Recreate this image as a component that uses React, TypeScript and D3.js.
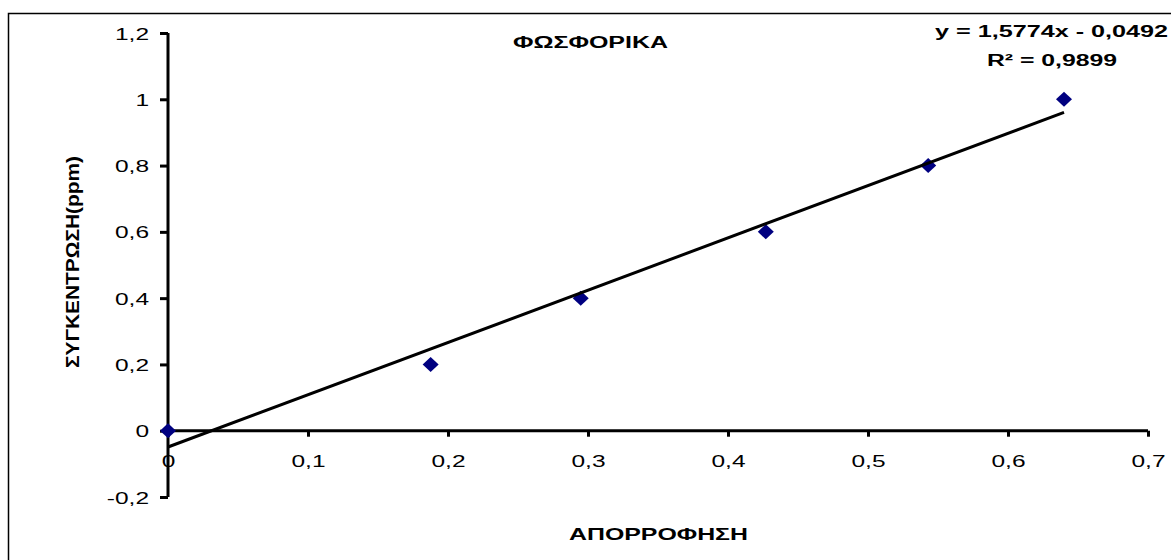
import React, { useEffect, useRef } from 'react';
import * as d3 from 'd3';

const absorbance = [0, 0.1876, 0.2948, 0.427, 0.543, 0.64];
const concentration = [0, 0.2, 0.4, 0.6, 0.8, 1.0];
const xTicks = [0, 0.1, 0.2, 0.3, 0.4, 0.5, 0.6, 0.7];
const yTicks = [-0.2, 0, 0.2, 0.4, 0.6, 0.8, 1, 1.2];
const trendSlope = 1.5774;
const trendIntercept = -0.0492;

const fmt = (v: number) => String(+v.toFixed(4)).replace('.', ',');

// the original is drawn with wide letters, so stretch text horizontally
const STRETCH = 1.44;

const App = () => {
  const svgRef = useRef<SVGSVGElement>(null);

  useEffect(() => {
    const width = 1171;
    const height = 560;
    const font = "'Liberation Sans', Arial, sans-serif";

    const x = d3.scaleLinear().domain([0, 0.7]).range([168, 1148]);
    const y = d3.scaleLinear().domain([-0.2, 1.2]).range([497, 33]);

    const svg = d3.select(svgRef.current)
      .attr('width', width)
      .attr('height', height)
      .style('font-family', font);
    svg.selectAll('*').remove();

    svg.append('rect')
      .attr('x', 8.5).attr('y', 13.5)
      .attr('width', width + 10).attr('height', height + 10)
      .attr('fill', 'white').attr('stroke', 'black').attr('stroke-width', 1.5);

    const widen = (sel: d3.Selection<any, any, any, any>, anchor: 'start' | 'middle' | 'end', ax: number) => {
      sel.each(function () {
        const t = this as SVGTextElement;
        const len = t.getComputedTextLength() * STRETCH;
        const left = anchor === 'start' ? ax : anchor === 'middle' ? ax - len / 2 : ax - len;
        d3.select(t)
          .attr('text-anchor', 'start')
          .attr('x', left)
          .attr('textLength', len)
          .attr('lengthAdjust', 'spacingAndGlyphs');
      });
    };

    // y axis at x = 0
    const yAxis = svg.append('g')
      .attr('transform', `translate(${x(0)},0)`)
      .call(d3.axisLeft(y).tickValues(yTicks).tickSize(8).tickFormat(d => fmt(+d)));
    yAxis.select('.domain').attr('stroke-width', 3).attr('d', `M0,${y(-0.2)}V${y(1.2)}`);
    yAxis.selectAll('.tick line').attr('stroke-width', 3);
    const yText = yAxis.selectAll('.tick text')
      .attr('font-size', 17).attr('font-family', font).attr('fill', 'black')
      .attr('dy', '0.36em');
    widen(yText, 'end', -19);

    // x axis at y = 0
    const xAxis = svg.append('g')
      .attr('transform', `translate(0,${y(0)})`)
      .call(d3.axisBottom(x).tickValues(xTicks).tickSize(6).tickFormat(d => fmt(+d)));
    xAxis.select('.domain').attr('stroke-width', 3).attr('d', `M${x(0)},0H${x(0.7)}`);
    xAxis.selectAll('.tick line').attr('stroke-width', 3);
    const xText = xAxis.selectAll('.tick text')
      .attr('font-size', 17).attr('font-family', font).attr('fill', 'black')
      .attr('y', 36).attr('dy', 0);
    widen(xText, 'middle', 0);

    // points
    const pts = absorbance.map((a, i) => [a, concentration[i]] as [number, number]);
    svg.append('g')
      .selectAll('path')
      .data(pts)
      .join('path')
      .attr('transform', d => `translate(${x(d[0])},${y(d[1])})`)
      .attr('d', 'M0,-7.5L8,0L0,7.5L-8,0Z')
      .attr('fill', '#000080');

    // linear trendline over the data range
    const [x0, x1] = d3.extent(absorbance) as [number, number];
    svg.append('path')
      .attr('d', d3.line()([
        [x(x0), y(trendSlope * x0 + trendIntercept)],
        [x(x1), y(trendSlope * x1 + trendIntercept)],
      ]))
      .attr('stroke', 'black')
      .attr('stroke-width', 3)
      .attr('fill', 'none');

    const label = (txt: string, left: number, base: number, len: number, size: number) =>
      svg.append('text')
        .attr('x', left).attr('y', base)
        .attr('font-size', size).attr('font-weight', 'bold')
        .attr('textLength', len).attr('lengthAdjust', 'spacingAndGlyphs')
        .text(txt);

    label('ΦΩΣΦΟΡΙΚΑ', 513, 48, 155, 16);
    label(`y = ${fmt(trendSlope)}x - ${fmt(-trendIntercept)}`, 935, 37, 233, 16);
    label('R² = 0,9899', 987, 66, 130, 16);
    label('ΑΠΟΡΡΟΦΗΣΗ', 569, 540, 179, 17);

    svg.append('text')
      .attr('transform', 'translate(79,262) scale(1.2,1) rotate(-90)')
      .attr('text-anchor', 'middle')
      .attr('font-size', 15).attr('font-weight', 'bold')
      .attr('textLength', 212).attr('lengthAdjust', 'spacingAndGlyphs')
      .text('ΣΥΓΚΕΝΤΡΩΣΗ(ppm)');
  }, []);

  return (
    <svg ref={svgRef} style={{ position: 'absolute', left: 0, top: 0, display: 'block' }} />
  );
};

export default App;
